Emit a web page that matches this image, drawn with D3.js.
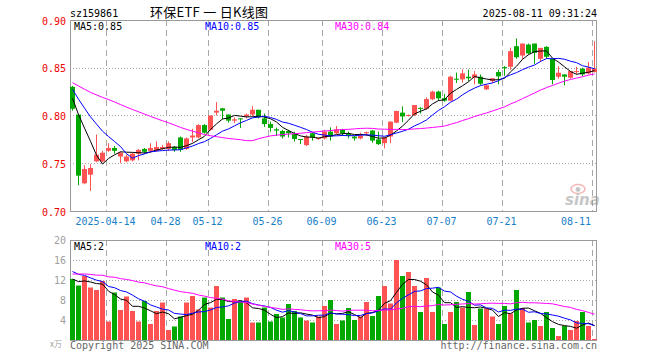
<!DOCTYPE html>
<html><head><meta charset="utf-8">
<script src="https://cdn.jsdelivr.net/npm/d3@7"></script>
<style>body{margin:0;background:#fff}svg{display:block}</style>
</head><body><svg id="c" width="660" height="360"></svg>
<script>
const dates = ["2025-04-03","2025-04-07","2025-04-08","2025-04-09","2025-04-10","2025-04-11","2025-04-14","2025-04-15","2025-04-16","2025-04-17","2025-04-18","2025-04-21","2025-04-22","2025-04-23","2025-04-24","2025-04-25","2025-04-28","2025-04-29","2025-04-30",
"2025-05-06","2025-05-07","2025-05-08","2025-05-09","2025-05-12","2025-05-13","2025-05-14","2025-05-15","2025-05-16","2025-05-19","2025-05-20","2025-05-21","2025-05-22","2025-05-23","2025-05-26","2025-05-27","2025-05-28","2025-05-29","2025-05-30",
"2025-06-03","2025-06-04","2025-06-05","2025-06-06","2025-06-09","2025-06-10","2025-06-11","2025-06-12","2025-06-13","2025-06-16","2025-06-17","2025-06-18","2025-06-19","2025-06-20","2025-06-23","2025-06-24","2025-06-25","2025-06-26","2025-06-27","2025-06-30",
"2025-07-01","2025-07-02","2025-07-03","2025-07-04","2025-07-07","2025-07-08","2025-07-09","2025-07-10","2025-07-11","2025-07-14","2025-07-15","2025-07-16","2025-07-17","2025-07-18","2025-07-21","2025-07-22","2025-07-23","2025-07-24","2025-07-25","2025-07-28","2025-07-29","2025-07-30","2025-07-31",
"2025-08-01","2025-08-04","2025-08-05","2025-08-06","2025-08-07","2025-08-08","2025-08-11"];

const opens  = [0.830,0.801,0.729,0.738,0.752,0.752,0.763,0.766,0.757,0.752,0.753,0.760,0.765,0.763,0.763,0.765,0.765,0.767,0.777,0.765,0.777,0.777,0.790,0.785,0.803,0.8075,0.801,0.7946,0.797,0.799,0.801,0.806,0.797,0.791,0.7856,0.7838,0.7838,0.7807,0.7754,0.769,0.7814,0.7758,0.776,0.7831,0.7814,0.7849,0.7807,0.7779,0.776,0.7814,0.7842,0.775,0.771,0.778,0.7925,0.803,0.7995,0.8005,0.808,0.807,0.817,0.825,0.8182,0.8155,0.8385,0.8378,0.8406,0.8396,0.8406,0.8274,0.836,0.8455,0.8507,0.851,0.8726,0.8628,0.8743,0.8753,0.8594,0.8719,0.8594,0.8406,0.843,0.8396,0.8455,0.849,0.844,0.8455];
const highs  = [0.831,0.801,0.748,0.749,0.780,0.763,0.771,0.768,0.762,0.759,0.761,0.765,0.766,0.771,0.773,0.769,0.773,0.768,0.778,0.777,0.786,0.791,0.791,0.800,0.814,0.808,0.801,0.798,0.797,0.802,0.810,0.806,0.802,0.7936,0.7873,0.785,0.785,0.783,0.7754,0.7796,0.782,0.777,0.785,0.7876,0.789,0.786,0.7831,0.7786,0.782,0.7831,0.7849,0.7831,0.7772,0.794,0.805,0.8095,0.801,0.811,0.8085,0.819,0.826,0.826,0.8224,0.8416,0.845,0.8483,0.848,0.8465,0.843,0.8326,0.839,0.848,0.8517,0.871,0.8806,0.8753,0.8753,0.8753,0.8708,0.8726,0.8594,0.8517,0.843,0.8465,0.851,0.850,0.856,0.8778];
const lows   = [0.805,0.727,0.728,0.721,0.751,0.751,0.762,0.760,0.750,0.751,0.752,0.753,0.760,0.761,0.762,0.764,0.763,0.762,0.762,0.764,0.772,0.776,0.781,0.784,0.800,0.796,0.7925,0.792,0.787,0.797,0.799,0.797,0.788,0.783,0.7786,0.776,0.777,0.7726,0.770,0.768,0.7737,0.7745,0.775,0.7737,0.7807,0.7786,0.7761,0.7737,0.775,0.7786,0.7716,0.7691,0.7656,0.771,0.792,0.793,0.799,0.7995,0.802,0.806,0.816,0.8155,0.8144,0.815,0.834,0.8344,0.836,0.8326,0.832,0.8267,0.834,0.8326,0.8415,0.848,0.8594,0.8594,0.864,0.8542,0.856,0.8594,0.8326,0.8385,0.8316,0.8385,0.843,0.841,0.843,0.845];
const closes = [0.807,0.737,0.744,0.745,0.759,0.761,0.766,0.763,0.761,0.757,0.760,0.764,0.762,0.766,0.767,0.767,0.771,0.764,0.764,0.776,0.779,0.790,0.782,0.800,0.805,0.805,0.7946,0.796,0.796,0.801,0.806,0.798,0.791,0.787,0.7842,0.778,0.7814,0.7754,0.7744,0.778,0.7772,0.7765,0.783,0.7779,0.7856,0.7814,0.779,0.7761,0.779,0.7825,0.7737,0.770,0.7772,0.7936,0.8047,0.799,0.8005,0.811,0.807,0.8172,0.825,0.818,0.8155,0.8406,0.8375,0.8441,0.839,0.843,0.8333,0.8316,0.839,0.841,0.8495,0.8674,0.861,0.8753,0.865,0.8656,0.8708,0.8615,0.8372,0.8448,0.8406,0.8465,0.8465,0.843,0.850,0.849];
const volumes = [12.2,10.9,12.8,10.5,10.0,11.8,3.7,9.5,6.0,8.7,5.8,3.7,7.8,3.2,5.8,7.5,2.0,2.7,4.7,7.5,8.8,6.1,8.5,6.5,10.8,8.5,4.2,8.2,7.8,8.5,3.5,3.5,6.5,3.7,5.2,4.5,7.2,5.8,4.5,3.9,3.5,4.7,6.8,8.0,3.2,3.9,6.4,4.0,4.7,7.6,4.8,8.8,10.8,7.3,16.0,12.8,13.6,10.8,5.6,12.4,5.6,10.5,3.2,5.6,7.6,6.5,9.6,3.0,6.3,6.3,4.7,3.2,6.8,5.3,10.0,6.4,3.5,4.0,2.8,5.6,2.4,0.8,2.8,2.0,3.8,5.6,2.8,0.2];

// closes / volumes of the 29 sessions before the window (estimated from where the MA lines start)
const priorCloses = [0.842,0.845,0.843,0.840,0.838,0.836,0.839,0.841,0.838,0.835,0.834,0.836,0.838,0.837,0.835,0.833,0.836,0.838,0.837,0.837,0.840,0.838,0.836,0.835,0.835,0.822,0.815,0.814,0.832];
const priorVolumes = [11.5,12.0,13.5,14.0,12.5,13.0,12.0,14.5,13.5,12.5,13.0,12.0,13.5,14.0,12.5,13.0,12.5,13.5,12.5,13.5,16.5,15.0,15.5,14.5,14.5,13.6,12.0,11.6,11.6];

const priceTicks = [0.90,0.85,0.80,0.75,0.70];
const priceTickLabels = ["0.90","0.85","0.80","0.75","0.70"];
const volTicks = [20,16,12,8,4];
const dateTicks = ["2025-04-14","2025-04-28","2025-05-12","2025-05-26","2025-06-09","2025-06-23","2025-07-07","2025-07-21","2025-08-11"];
const dateTickLabels = ["2025-04-14","04-28","05-12","05-26","06-09","06-23","07-07","07-21","08-11"];
const maPeriods = [5,10,30];
const maColors = ["#000000","#0000ff","#ff00ff"];
const priceMaLabels = ["MA5:0.85","MA10:0.85","MA30:0.84"];
const volMaLabels = ["MA5:2","MA10:2","MA30:5"];

const svg = d3.select("#c");
const L = 70, R = 597, PT = 20, PB = 211, VT = 240, VB = 340;
const mono = "'DejaVu Sans Mono', monospace";
const RED = "#ff5252", GREEN = "#00a800", GRID = "#a8a8a8";

const x = d3.scaleBand().domain(dates).range([L, R]).paddingInner(1/6).paddingOuter(0);
const bw = x.bandwidth();
const cx = d => x(d) + bw / 2;
const y = d3.scaleLinear().domain([0.70, 0.90]).range([PB, PT]);
const yv = d3.scaleLinear().domain([0, 20]).range([VB, VT]);

function movingAvg(prior, vals, n) {
  const all = prior.concat(vals);
  const off = prior.length;
  return vals.map((v, i) => d3.mean(all.slice(off + i - n + 1, off + i + 1)));
}

// header
svg.append("text").attr("x", L).attr("y", 16.5).attr("font-family", mono).attr("font-size", 10).attr("fill", "#000").text("sz159861");
svg.append("text").attr("x", 150).attr("y", 16.5).attr("font-family", "'Noto Sans CJK SC', sans-serif").attr("font-size", 13)
  .attr("textLength", 118).attr("lengthAdjust", "spacing").attr("fill", "#000").text("环保ETF 一 日K线图");
svg.append("text").attr("x", R).attr("y", 16.5).attr("text-anchor", "end").attr("font-family", mono).attr("font-size", 10).attr("fill", "#000").text("2025-08-11 09:31:24");

// grids
const grid = svg.append("g");
priceTicks.slice(1, 4).forEach(t => {
  grid.append("line").attr("x1", L).attr("x2", R).attr("y1", Math.round(y(t)) + 0.5).attr("y2", Math.round(y(t)) + 0.5)
    .attr("stroke", GRID).attr("stroke-dasharray", "1,2");
});
volTicks.slice(1).forEach(t => {
  grid.append("line").attr("x1", L).attr("x2", R).attr("y1", Math.round(yv(t)) + 0.5).attr("y2", Math.round(yv(t)) + 0.5)
    .attr("stroke", GRID).attr("stroke-dasharray", "1,2");
});
dateTicks.forEach(d => {
  const gx = Math.round(x(d)) + 0.5;
  [[PT, PB], [VT, VB]].forEach(([a, b]) => {
    grid.append("line").attr("x1", gx).attr("x2", gx).attr("y1", a).attr("y2", b)
      .attr("stroke", GRID).attr("stroke-dasharray", "6,4");
  });
});

// watermark
const wm = svg.append("g").attr("opacity", 0.55);
wm.append("ellipse").attr("cx", 578).attr("cy", 189).attr("rx", 7).attr("ry", 4.5).attr("fill", "none").attr("stroke", "#f08080").attr("stroke-width", 1.6);
wm.append("circle").attr("cx", 578).attr("cy", 189.5).attr("r", 2.4).attr("fill", "#999");
wm.append("text").attr("x", 565).attr("y", 205).attr("font-family", "'DejaVu Sans', sans-serif").attr("font-weight", "bold")
  .attr("font-style", "italic").attr("font-size", 15).attr("fill", "#999").text("sina");

// frames
svg.append("rect").attr("x", L + 0.5).attr("y", PT + 0.5).attr("width", R - L - 1).attr("height", PB - PT).attr("fill", "none").attr("stroke", "#9a9a9a");
svg.append("rect").attr("x", L + 0.5).attr("y", VT + 0.5).attr("width", R - L - 1).attr("height", VB - VT).attr("fill", "none").attr("stroke", "#9a9a9a");

// price axis labels
priceTicks.forEach((t, i) => {
  svg.append("text").attr("x", 66).attr("y", y(t) + 4.5).attr("text-anchor", "end").attr("font-family", mono).attr("font-size", 10)
    .attr("fill", "#ee0000").text(priceTickLabels[i]);
});
volTicks.forEach(t => {
  svg.append("text").attr("x", 66).attr("y", yv(t) + 4).attr("text-anchor", "end").attr("font-family", mono).attr("font-size", 10)
    .attr("fill", "#a0a0a0").text(String(t));
});
svg.append("text").attr("x", 62).attr("y", 347).attr("text-anchor", "end").attr("font-family", "'Noto Sans CJK SC', sans-serif").attr("font-size", 8)
  .attr("fill", "#a0a0a0").text("x万");

// date labels
dateTicks.forEach((d, i) => {
  const gx = x(d) + 0.5;
  const last = i === dateTicks.length - 1;
  svg.append("text").attr("x", last ? 591 : gx - 1).attr("y", 225).attr("text-anchor", last ? "end" : "middle")
    .attr("font-family", mono).attr("font-size", 10).attr("fill", "#1a80c8").text(dateTickLabels[i]);
});

// candles
const rows = dates.map((d, i) => ({d, o: opens[i], h: highs[i], l: lows[i], c: closes[i], v: volumes[i]}));
const cg = svg.append("g");
rows.forEach(r => {
  const col = r.c >= r.o ? RED : GREEN;
  cg.append("line").attr("x1", cx(r.d)).attr("x2", cx(r.d)).attr("y1", y(r.h)).attr("y2", y(r.l)).attr("stroke", col).attr("stroke-width", 1);
  const top = y(Math.max(r.o, r.c)), bot = y(Math.min(r.o, r.c));
  cg.append("rect").attr("x", x(r.d)).attr("width", bw).attr("y", top).attr("height", Math.max(1, bot - top)).attr("fill", col);
});

// volume bars
const vg = svg.append("g");
rows.forEach(r => {
  vg.append("rect").attr("x", x(r.d)).attr("width", bw).attr("y", yv(r.v)).attr("height", VB - yv(r.v))
    .attr("fill", r.c >= r.o ? RED : GREEN);
});

// moving averages
svg.append("clipPath").attr("id", "cp").append("rect").attr("x", L).attr("y", PT).attr("width", R - L).attr("height", PB - PT);
svg.append("clipPath").attr("id", "cv").append("rect").attr("x", L).attr("y", VT).attr("width", R - L).attr("height", VB - VT);
maPeriods.forEach((n, k) => {
  const pm = movingAvg(priorCloses, closes, n);
  const vm = movingAvg(priorVolumes, volumes, n);
  svg.append("path").attr("clip-path", "url(#cp)")
    .attr("d", d3.line().x((v, i) => cx(dates[i])).y(v => y(v))(pm))
    .attr("fill", "none").attr("stroke", maColors[k]).attr("stroke-width", 1);
  svg.append("path").attr("clip-path", "url(#cv)")
    .attr("d", d3.line().x((v, i) => cx(dates[i])).y(v => yv(v))(vm))
    .attr("fill", "none").attr("stroke", maColors[k]).attr("stroke-width", 1);
});

// MA legends
const legX = [74, 205, 335];
priceMaLabels.forEach((t, k) => {
  svg.append("text").attr("x", legX[k]).attr("y", 29.5).attr("font-family", mono).attr("font-size", 10).attr("fill", maColors[k]).text(t);
});
volMaLabels.forEach((t, k) => {
  svg.append("text").attr("x", legX[k]).attr("y", 250).attr("font-family", mono).attr("font-size", 10).attr("fill", maColors[k]).text(t);
});

// footer
svg.append("text").attr("x", L).attr("y", 349).attr("font-family", mono).attr("font-size", 10).attr("fill", "#666").text("Copyright 2025 SINA.COM");
svg.append("text").attr("x", R).attr("y", 349).attr("text-anchor", "end").attr("font-family", mono).attr("font-size", 10).attr("fill", "#666").text("http://finance.sina.com.cn");
</script></body></html>
